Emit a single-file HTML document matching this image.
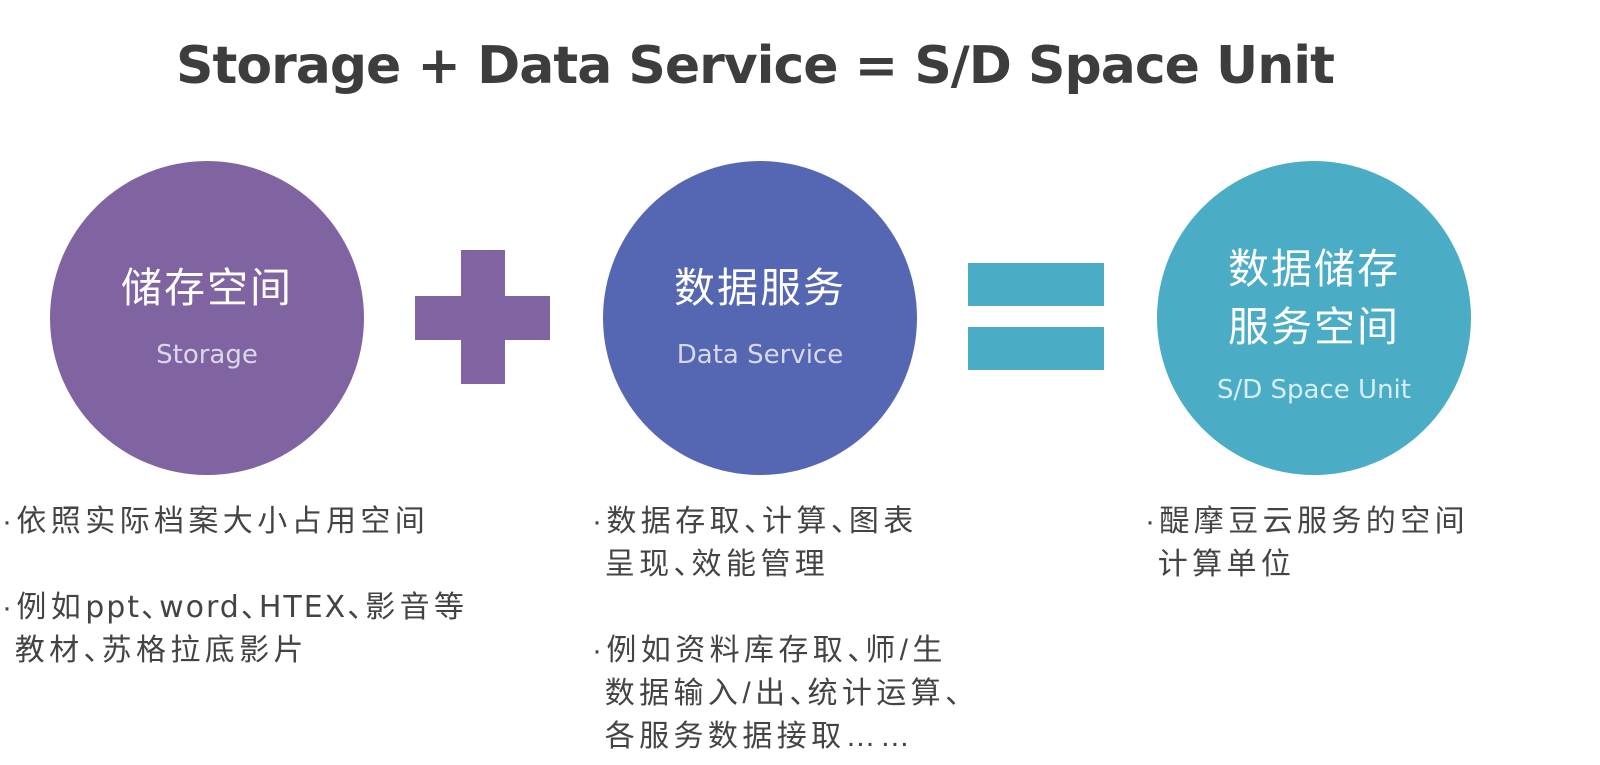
<!DOCTYPE html>
<html><head><meta charset="utf-8"><style>
body{margin:0;width:1600px;height:765px;background:#fff;position:relative;overflow:hidden;font-family:"Liberation Sans","Noto Sans CJK SC",sans-serif}
.a{position:absolute}
.title{left:0;width:1510px;top:36px;text-align:center;font-size:52px;font-weight:bold;color:#3d3d3d;font-family:"DejaVu Sans","Liberation Sans",sans-serif;letter-spacing:-1px}
.c{border-radius:50%;width:314px;height:314px;top:161px}
.cn{color:#fff;font-size:41px;text-align:center;width:314px;letter-spacing:2px;line-height:58px}
.en{color:#d8d8e8;font-size:26px;text-align:center;width:314px;font-family:"DejaVu Sans",sans-serif}
.t{font-size:30px;color:#444;letter-spacing:4.4px;line-height:43px;white-space:pre}
.l{letter-spacing:2px;font-family:"DejaVu Sans",sans-serif;font-size:30px}
.p{letter-spacing:0;margin-right:-12px}
</style></head><body>
<div class="a title">Storage + Data Service = S/D Space Unit</div>

<div class="a c" style="left:50px;background:#8064a2"></div>
<div class="a" style="left:415px;top:296px;width:135px;height:44px;background:#8064a2"></div>
<div class="a" style="left:461px;top:250px;width:44px;height:134px;background:#8064a2"></div>
<div class="a c" style="left:603px;background:#5567b3"></div>
<div class="a" style="left:968px;top:263px;width:136px;height:43px;background:#4bacc6"></div>
<div class="a" style="left:968px;top:327px;width:136px;height:43px;background:#4bacc6"></div>
<div class="a c" style="left:1157px;background:#4bacc6"></div>

<div class="a cn" style="left:50px;top:259px">储存空间</div>
<div class="a en" style="left:50px;top:340px">Storage</div>
<div class="a cn" style="left:603px;top:259px">数据服务</div>
<div class="a en" style="left:603px;top:340px">Data Service</div>
<div class="a cn" style="left:1157px;top:240px">数据储存<br>服务空间</div>
<div class="a en" style="left:1157px;top:375px;color:#d6eef4">S/D Space Unit</div>

<div class="a t" style="left:2px;top:500px">·依照实际档案大小占用空间</div>
<div class="a t" style="left:2px;top:586px">·例如<span class="l">ppt</span><span class="p">、</span><span class="l">word</span><span class="p">、</span><span class="l">HTEX</span><span class="p">、</span>影音等
 教材<span class="p">、</span>苏格拉底影片</div>
<div class="a t" style="left:592px;top:500px">·数据存取<span class="p">、</span>计算<span class="p">、</span>图表
 呈现<span class="p">、</span>效能管理</div>
<div class="a t" style="left:592px;top:629px">·例如资料库存取<span class="p">、</span>师/生
 数据输入/出<span class="p">、</span>统计运算<span class="p">、</span>
 各服务数据接取……</div>
<div class="a t" style="left:1145px;top:500px">·醍摩豆云服务的空间
 计算单位</div>
</body></html>
